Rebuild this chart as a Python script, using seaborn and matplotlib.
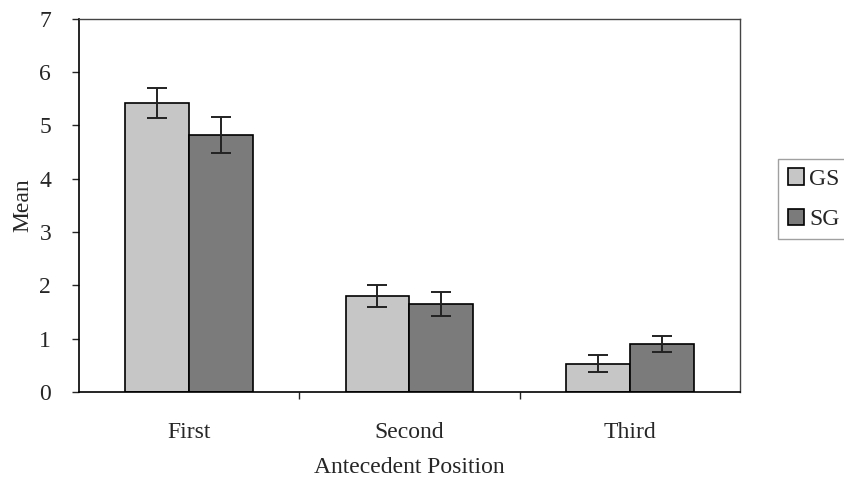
import pandas as pd
import numpy as np
import matplotlib.pyplot as plt
import seaborn as sns

positions = ['First', 'Second', 'Third']
groups = ['GS', 'SG']
gs_means = [5.42, 1.80, 0.53]
sg_means = [4.82, 1.65, 0.90]
gs_err = [0.28, 0.20, 0.16]
sg_err = [0.34, 0.23, 0.15]

df = pd.DataFrame({
    'Position': positions * 2,
    'Group': ['GS'] * 3 + ['SG'] * 3,
    'Mean': gs_means + sg_means,
    'Err': gs_err + sg_err,
})

sns.set_style('white')
plt.rcParams['font.family'] = ['Liberation Serif', 'DejaVu Serif']

fig = plt.figure(figsize=(8.45, 4.82), dpi=100)
ax = fig.add_axes([0.0935, 0.187, 0.782, 0.774])

sns.barplot(data=df, x='Position', y='Mean', hue='Group', order=positions,
            hue_order=groups, palette=['#c6c6c6', '#7b7b7b'], width=0.58,
            errorbar=None, edgecolor='black', linewidth=1.2, saturation=1,
            ax=ax)

# error bars at the bar centers
for container, g in zip(ax.containers, groups):
    sub = df[df['Group'] == g].set_index('Position').loc[positions]
    xs = [p.get_x() + p.get_width() / 2 for p in container.patches]
    ax.errorbar(xs, sub['Mean'], yerr=sub['Err'], fmt='none', ecolor='#222222',
                elinewidth=1.4, capsize=7, capthick=1.4)

fs = 17
ax.set_ylim(0, 7)
ax.set_xlim(-0.5, 2.5)
ax.set_yticks(range(8))
ax.set_yticklabels([str(i) for i in range(8)], fontsize=fs)
ax.set_xticks(range(3))
ax.set_xticklabels(positions, fontsize=fs)
ax.set_xticks([0.5, 1.5], minor=True)
ax.tick_params(axis='y', which='major', direction='out', length=5, width=1, left=True, pad=15)
ax.tick_params(axis='x', which='major', length=0, pad=22)
ax.tick_params(axis='x', which='minor', direction='out', length=5, width=1, bottom=True)
ax.set_xlabel('Antecedent Position', fontsize=fs, labelpad=10)
ax.set_ylabel('Mean', fontsize=fs, labelpad=4)

for side in ['left', 'bottom']:
    ax.spines[side].set_color('black')
    ax.spines[side].set_linewidth(1.2)
for side in ['top', 'right']:
    ax.spines[side].set_color('#444444')
    ax.spines[side].set_linewidth(1.0)

leg = ax.legend(loc='center left', bbox_to_anchor=(0.921, 0.587),
                bbox_transform=fig.transFigure, fontsize=fs, frameon=True,
                fancybox=False, edgecolor='#888888', handlelength=0.7,
                handleheight=0.7, handletextpad=0.2, borderpad=0.4,
                labelspacing=0.8, borderaxespad=0)

fig.savefig('out.png', dpi=100)
